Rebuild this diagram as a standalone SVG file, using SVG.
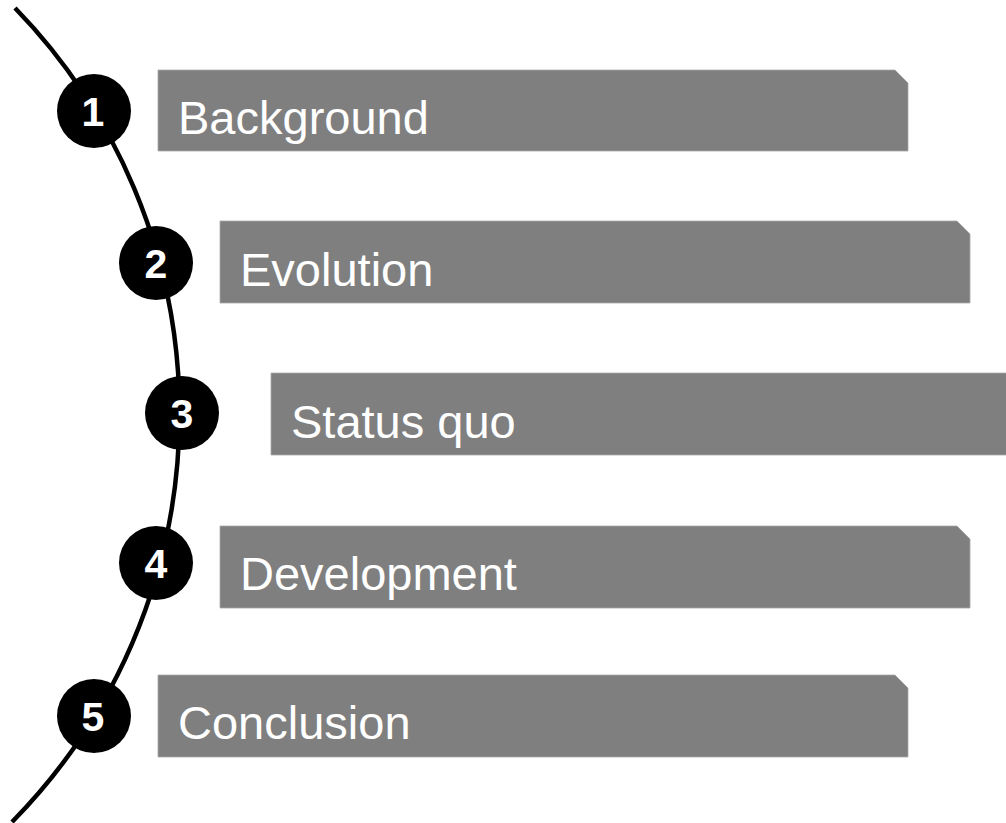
<svg xmlns="http://www.w3.org/2000/svg" width="1006" height="823" viewBox="0 0 1006 823">
<style>
.bar{fill:#7f7f7f;stroke:#a8a8a8;stroke-width:0.8}
.lbl{font-family:"Liberation Sans",Arial,sans-serif;font-size:47px;fill:#ffffff}
.dot{fill:#000000}
.num{font-family:"Liberation Sans",Arial,sans-serif;font-size:41px;font-weight:bold;fill:#ffffff;text-anchor:middle}
.arc{fill:none;stroke:#000000;stroke-width:4.5}
</style>
<rect width="1006" height="823" fill="#ffffff"/>
<g id="connectors">
<path class="arc" d="M 15 8 A 582 582 0 0 1 12 822"/>
</g>
<g id="node1">
<polygon class="bar" points="158,70 895,70 908,83 908,151 158,151"/>
<text class="lbl" x="178" y="134">Background</text>
<circle class="dot" cx="94" cy="111" r="37"/>
<text class="num" x="93" y="126">1</text>
</g>
<g id="node2">
<polygon class="bar" points="220,221 957,221 970,234 970,303 220,303"/>
<text class="lbl" x="240" y="286">Evolution</text>
<circle class="dot" cx="156" cy="263" r="37"/>
<text class="num" x="156" y="278">2</text>
</g>
<g id="node3">
<polygon class="bar" points="271,373 1008,373 1021,386 1021,455 271,455"/>
<text class="lbl" x="291" y="438">Status quo</text>
<circle class="dot" cx="182" cy="413" r="37"/>
<text class="num" x="182" y="428">3</text>
</g>
<g id="node4">
<polygon class="bar" points="220,526 957,526 970,539 970,608 220,608"/>
<text class="lbl" x="240" y="590">Development</text>
<circle class="dot" cx="156" cy="563" r="37"/>
<text class="num" x="156" y="578">4</text>
</g>
<g id="node5">
<polygon class="bar" points="158,675 895,675 908,688 908,757 158,757"/>
<text class="lbl" x="178" y="739">Conclusion</text>
<circle class="dot" cx="94" cy="716" r="37"/>
<text class="num" x="93" y="731">5</text>
</g>
</svg>
